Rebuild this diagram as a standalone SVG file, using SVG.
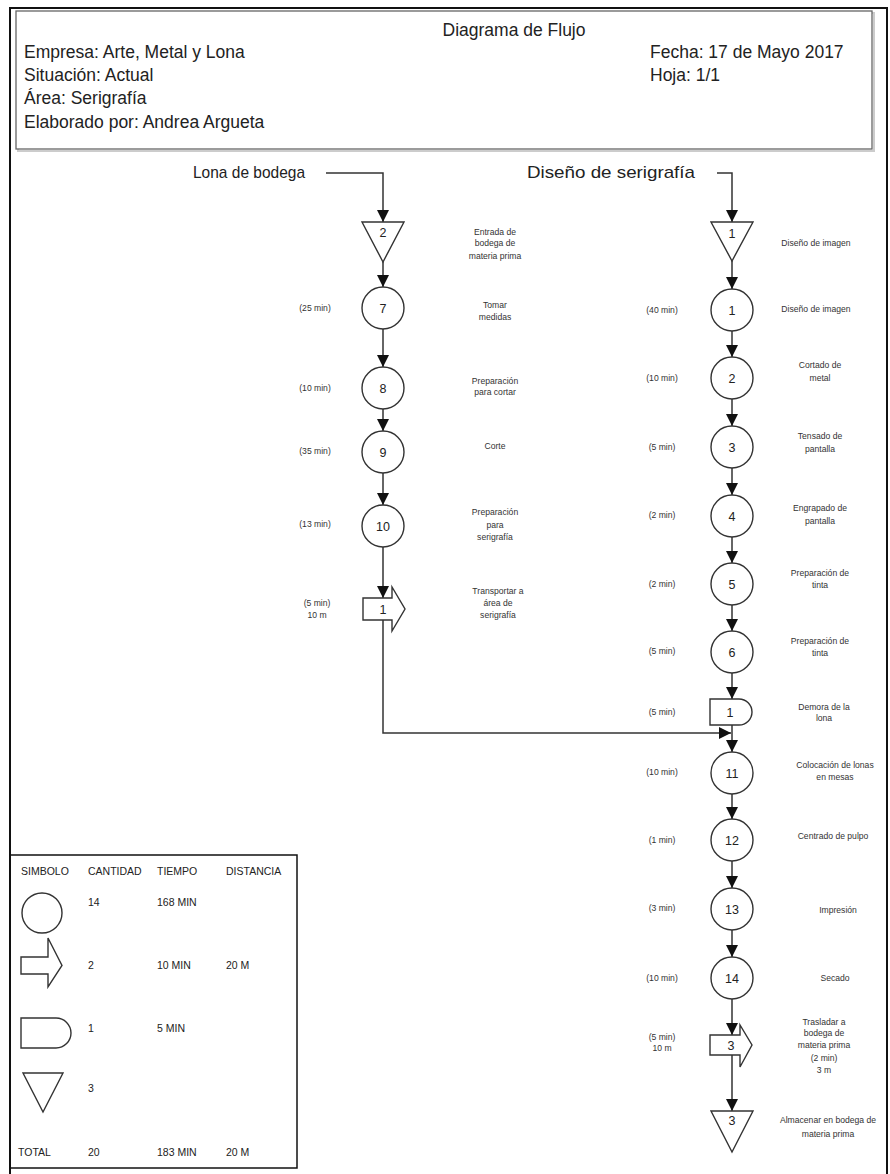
<svg xmlns="http://www.w3.org/2000/svg" width="890" height="1174" viewBox="0 0 890 1174">
  <style>
    .hdr { font-family: "Liberation Sans", Arial, sans-serif; font-size: 17.5px; fill: #222; }
    .start { font-family: "Liberation Sans", Arial, sans-serif; font-size: 17px; fill: #222; }
    .num { font-family: "Liberation Sans", Arial, sans-serif; font-size: 12.5px; fill: #222; text-anchor: middle; }
    .desc { font-family: "Liberation Sans", Arial, sans-serif; font-size: 8.6px; fill: #333; text-anchor: middle; }
    .time { font-family: "Liberation Sans", Arial, sans-serif; font-size: 8.6px; fill: #333; text-anchor: middle; }
    .leg { font-family: "Liberation Sans", Arial, sans-serif; font-size: 10.5px; fill: #222; }
    .shape { fill: #fff; stroke: #333; stroke-width: 1.4; }
    .conn { fill: none; stroke: #333; stroke-width: 1.5; marker-end: url(#arrow); }
    .plain { fill: none; stroke: #333; stroke-width: 1.5; }
  </style>
  <defs>
    <marker id="arrow" markerUnits="userSpaceOnUse" markerWidth="12" markerHeight="12" refX="12" refY="6" orient="auto">
      <path d="M0,0 L12,6 L0,12 Z" fill="#111"/>
    </marker>
  </defs>

  <rect x="0" y="0" width="890" height="1174" fill="#fff"/>

  <!-- page frame -->
  <path d="M10,1174 V8 H887 V1174" fill="none" stroke="#111" stroke-width="2"/>

  <!-- title block -->
  <g id="header">
    <rect x="18" y="13" width="856" height="138" fill="none" stroke="#ccc" stroke-width="2"/>
    <rect x="16" y="11" width="856" height="138" fill="#fff" stroke="#666" stroke-width="1.3"/>
    <text class="hdr" x="514" y="36" text-anchor="middle">Diagrama de Flujo</text>
    <text class="hdr" x="24" y="58">Empresa: Arte, Metal y Lona</text>
    <text class="hdr" x="24" y="81">Situación: Actual</text>
    <text class="hdr" x="24" y="104">Área: Serigrafía</text>
    <text class="hdr" x="24" y="128">Elaborado por: Andrea Argueta</text>
    <text class="hdr" x="650" y="58">Fecha: 17 de Mayo 2017</text>
    <text class="hdr" x="650" y="81">Hoja: 1/1</text>
  </g>

  <!-- flow starts -->
  <g id="start-lona">
    <text class="start" x="193" y="178" textLength="112" lengthAdjust="spacingAndGlyphs">Lona de bodega</text>
  </g>
  <g id="start-diseno">
    <text class="start" x="527" y="178" textLength="168" lengthAdjust="spacingAndGlyphs">Diseño de serigrafía</text>
  </g>

  <!-- connectors -->
  <g id="connectors">
    <path class="conn" d="M326,173 H383 V222"/>
    <path class="conn" d="M383,262 V287"/>
    <path class="conn" d="M383,329 V367"/>
    <path class="conn" d="M383,409 V431"/>
    <path class="conn" d="M383,473 V505"/>
    <path class="conn" d="M383,547 V598"/>
    <path class="conn" d="M383,620 V733 H731"/>

    <path class="conn" d="M717,173 H732 V222"/>
    <path class="conn" d="M732,261 V289"/>
    <path class="conn" d="M732,331 V357"/>
    <path class="conn" d="M732,399 V426"/>
    <path class="conn" d="M732,468 V495"/>
    <path class="conn" d="M732,537 V563"/>
    <path class="conn" d="M732,605 V631"/>
    <path class="conn" d="M732,673 V699"/>
    <path class="conn" d="M732,725 V752"/>
    <path class="conn" d="M732,794 V819"/>
    <path class="conn" d="M732,861 V888"/>
    <path class="conn" d="M732,930 V957"/>
    <path class="conn" d="M732,999 V1035"/>
    <path class="conn" d="M732,1055 V1111"/>
  </g>

  <!-- left column: lona -->
  <g id="almacen-2">
    <polygon class="shape" points="362,222 404,222 383,262"/>
    <text class="num" x="383" y="237">2</text>
    <text class="desc" x="495" y="235">Entrada de</text>
    <text class="desc" x="495" y="246">bodega de</text>
    <text class="desc" x="495" y="259">materia prima</text>
  </g>
  <g id="op-7">
    <circle class="shape" cx="383" cy="308" r="21"/>
    <text class="num" x="383" y="312.5">7</text>
    <text class="time" x="315" y="311">(25 min)</text>
    <text class="desc" x="495" y="308">Tomar</text>
    <text class="desc" x="495" y="320">medidas</text>
  </g>
  <g id="op-8">
    <circle class="shape" cx="383" cy="388" r="21"/>
    <text class="num" x="383" y="392.5">8</text>
    <text class="time" x="315" y="391">(10 min)</text>
    <text class="desc" x="495" y="384">Preparación</text>
    <text class="desc" x="495" y="395">para cortar</text>
  </g>
  <g id="op-9">
    <circle class="shape" cx="383" cy="452" r="21"/>
    <text class="num" x="383" y="456.5">9</text>
    <text class="time" x="315" y="454">(35 min)</text>
    <text class="desc" x="495" y="449">Corte</text>
  </g>
  <g id="op-10">
    <circle class="shape" cx="383" cy="526" r="21"/>
    <text class="num" x="383" y="530.5">10</text>
    <text class="time" x="315" y="527">(13 min)</text>
    <text class="desc" x="495" y="515">Preparación</text>
    <text class="desc" x="495" y="528">para</text>
    <text class="desc" x="495" y="540">serigrafía</text>
  </g>
  <g id="transporte-1">
    <path class="shape" d="M363,598 H392 V587 L405,609 L392,631 V620 H363 Z"/>
    <text class="num" x="383" y="613.5">1</text>
    <text class="time" x="317" y="606">(5 min)</text>
    <text class="time" x="317" y="618">10 m</text>
    <text class="desc" x="498" y="594">Transportar a</text>
    <text class="desc" x="498" y="606">área de</text>
    <text class="desc" x="498" y="618">serigrafía</text>
  </g>

  <!-- right column: diseño -->
  <g id="almacen-1">
    <polygon class="shape" points="711,222 753,222 732,261"/>
    <text class="num" x="732" y="238">1</text>
    <text class="desc" x="816" y="246">Diseño de imagen</text>
  </g>
  <g id="op-1">
    <circle class="shape" cx="732" cy="310" r="21"/>
    <text class="num" x="732" y="314.5">1</text>
    <text class="time" x="662" y="313">(40 min)</text>
    <text class="desc" x="816" y="312">Diseño de imagen</text>
  </g>
  <g id="op-2">
    <circle class="shape" cx="732" cy="378" r="21"/>
    <text class="num" x="732" y="382.5">2</text>
    <text class="time" x="662" y="381">(10 min)</text>
    <text class="desc" x="820" y="368">Cortado de</text>
    <text class="desc" x="820" y="381">metal</text>
  </g>
  <g id="op-3">
    <circle class="shape" cx="732" cy="447" r="21"/>
    <text class="num" x="732" y="451.5">3</text>
    <text class="time" x="662" y="450">(5 min)</text>
    <text class="desc" x="820" y="439">Tensado de</text>
    <text class="desc" x="820" y="452">pantalla</text>
  </g>
  <g id="op-4">
    <circle class="shape" cx="732" cy="516" r="21"/>
    <text class="num" x="732" y="520.5">4</text>
    <text class="time" x="662" y="518">(2 min)</text>
    <text class="desc" x="820" y="511">Engrapado de</text>
    <text class="desc" x="820" y="524">pantalla</text>
  </g>
  <g id="op-5">
    <circle class="shape" cx="732" cy="584" r="21"/>
    <text class="num" x="732" y="588.5">5</text>
    <text class="time" x="662" y="587">(2 min)</text>
    <text class="desc" x="820" y="576">Preparación de</text>
    <text class="desc" x="820" y="588">tinta</text>
  </g>
  <g id="op-6">
    <circle class="shape" cx="732" cy="652" r="21"/>
    <text class="num" x="732" y="656.5">6</text>
    <text class="time" x="662" y="654">(5 min)</text>
    <text class="desc" x="820" y="644">Preparación de</text>
    <text class="desc" x="820" y="656">tinta</text>
  </g>
  <g id="demora-1">
    <path class="shape" d="M710,699 H739 A13,13 0 0 1 739,725 H710 Z"/>
    <text class="num" x="730" y="716.5">1</text>
    <text class="time" x="662" y="715">(5 min)</text>
    <text class="desc" x="824" y="710">Demora de la</text>
    <text class="desc" x="824" y="721">lona</text>
  </g>
  <g id="op-11">
    <circle class="shape" cx="732" cy="773" r="21"/>
    <text class="num" x="732" y="777.5">11</text>
    <text class="time" x="662" y="775">(10 min)</text>
    <text class="desc" x="835" y="768">Colocación de lonas</text>
    <text class="desc" x="835" y="780">en mesas</text>
  </g>
  <g id="op-12">
    <circle class="shape" cx="732" cy="840" r="21"/>
    <text class="num" x="732" y="844.5">12</text>
    <text class="time" x="662" y="843">(1 min)</text>
    <text class="desc" x="833" y="839">Centrado de pulpo</text>
  </g>
  <g id="op-13">
    <circle class="shape" cx="732" cy="909" r="21"/>
    <text class="num" x="732" y="913.5">13</text>
    <text class="time" x="662" y="911">(3 min)</text>
    <text class="desc" x="838" y="913">Impresión</text>
  </g>
  <g id="op-14">
    <circle class="shape" cx="732" cy="978" r="21"/>
    <text class="num" x="732" y="982.5">14</text>
    <text class="time" x="662" y="981">(10 min)</text>
    <text class="desc" x="835" y="981">Secado</text>
  </g>
  <g id="transporte-3">
    <path class="shape" d="M710,1035 H740 V1025 L752,1045 L740,1067 V1055 H710 Z"/>
    <text class="num" x="731" y="1049.5">3</text>
    <text class="time" x="662" y="1040">(5 min)</text>
    <text class="time" x="662" y="1051">10 m</text>
    <text class="desc" x="824" y="1025">Trasladar a</text>
    <text class="desc" x="824" y="1036">bodega de</text>
    <text class="desc" x="824" y="1048">materia prima</text>
    <text class="desc" x="824" y="1061">(2 min)</text>
    <text class="desc" x="824" y="1073">3 m</text>
  </g>
  <g id="almacen-3">
    <polygon class="shape" points="711,1111 753,1111 732,1152"/>
    <text class="num" x="732" y="1125">3</text>
    <text class="desc" x="828" y="1123">Almacenar en bodega de</text>
    <text class="desc" x="828" y="1137">materia prima</text>
  </g>

  <!-- summary table -->
  <g id="resumen">
    <rect x="10" y="855" width="287" height="313" fill="none" stroke="#111" stroke-width="1.5"/>
    <text class="leg" x="21" y="875">SIMBOLO</text>
    <text class="leg" x="88" y="875">CANTIDAD</text>
    <text class="leg" x="157" y="875">TIEMPO</text>
    <text class="leg" x="226" y="875">DISTANCIA</text>

    <circle class="shape" cx="42" cy="913" r="20"/>
    <text class="leg" x="88" y="906">14</text>
    <text class="leg" x="157" y="906">168 MIN</text>

    <path class="shape" d="M21,957 H48 V938 L62,965.5 L48,987 V974 H21 Z"/>
    <text class="leg" x="88" y="969">2</text>
    <text class="leg" x="157" y="969">10 MIN</text>
    <text class="leg" x="226" y="969">20 M</text>

    <path class="shape" d="M21,1018 H56 A15,15 0 0 1 56,1048 H21 Z"/>
    <text class="leg" x="88" y="1032">1</text>
    <text class="leg" x="157" y="1032">5 MIN</text>

    <polygon class="shape" points="23,1073 63,1073 43,1112"/>
    <text class="leg" x="88" y="1092">3</text>

    <text class="leg" x="18" y="1156">TOTAL</text>
    <text class="leg" x="88" y="1156">20</text>
    <text class="leg" x="157" y="1156">183 MIN</text>
    <text class="leg" x="226" y="1156">20 M</text>
  </g>
</svg>
